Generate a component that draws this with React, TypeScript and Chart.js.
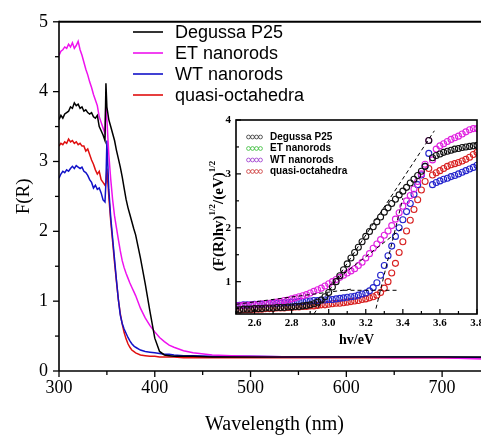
import React, { useEffect, useRef } from 'react';
import { Chart, registerables } from 'chart.js';

Chart.register(...registerables);

// ---------- main chart data ----------
const MAIN_WL = [300, 302, 304, 306, 308, 310, 312, 314, 316, 318, 320, 322, 324, 326, 328, 330, 332, 334, 336, 338, 340, 342, 344, 346, 348, 349, 350, 352, 354, 356, 358, 360, 362, 364, 366, 368, 370, 372, 374, 376, 378, 380, 385, 390, 395, 400, 405, 410, 415, 420, 430, 440, 460, 480, 500, 550, 600, 650, 700, 750];

const P25 = [3.60, 3.66, 3.62, 3.68, 3.70, 3.72, 3.78, 3.76, 3.84, 3.80,
  3.82, 3.76, 3.78, 3.72, 3.74, 3.70, 3.68, 3.70, 3.64, 3.62,
  3.66, 3.50, 3.44, 3.38, 3.30, 4.12, 3.78, 3.60, 3.50, 3.40,
  3.30, 3.16, 3.04, 2.92, 2.78, 2.62, 2.46, 2.34, 2.24, 2.14,
  2.04, 1.95, 1.62, 1.25, 0.85, 0.47, 0.28, 0.23, 0.22, 0.21,
  0.21, 0.21, 0.20, 0.20, 0.20, 0.20, 0.20, 0.20, 0.20, 0.20];

const ET = [4.52, 4.58, 4.60, 4.64, 4.62, 4.68, 4.64, 4.70, 4.62, 4.66,
  4.72, 4.60, 4.52, 4.42, 4.32, 4.24, 4.14, 4.06, 3.96, 3.88,
  3.80, 3.64, 3.56, 3.48, 3.40, 3.88, 3.60, 3.10, 2.75, 2.45,
  2.22, 2.05, 1.88, 1.72, 1.58, 1.48, 1.40, 1.33, 1.26, 1.20,
  1.14, 1.08, 0.90, 0.76, 0.65, 0.56, 0.48, 0.42, 0.37, 0.34,
  0.29, 0.26, 0.23, 0.22, 0.21, 0.20, 0.20, 0.19, 0.19, 0.17];

const WT = [2.76, 2.82, 2.86, 2.84, 2.88, 2.86, 2.90, 2.93, 2.90, 2.94,
  2.92, 2.90, 2.92, 2.86, 2.84, 2.80, 2.74, 2.70, 2.62, 2.66,
  2.60, 2.62, 2.55, 2.45, 2.42, 2.70, 3.30, 2.60, 2.20, 1.90,
  1.60, 1.30, 1.02, 0.80, 0.68, 0.60, 0.54, 0.48, 0.43, 0.39,
  0.36, 0.34, 0.30, 0.28, 0.27, 0.26, 0.25, 0.24, 0.24, 0.23,
  0.22, 0.22, 0.21, 0.21, 0.21, 0.20, 0.20, 0.20, 0.20, 0.19];

const QO = [3.22, 3.26, 3.24, 3.28, 3.26, 3.32, 3.28, 3.30, 3.26, 3.28,
  3.24, 3.26, 3.22, 3.22, 3.15, 3.18, 3.10, 3.02, 2.96, 2.88,
  2.82, 2.86, 2.74, 2.70, 2.66, 2.70, 2.90, 2.50, 2.15, 1.85,
  1.55, 1.28, 1.02, 0.82, 0.67, 0.55, 0.46, 0.39, 0.34, 0.30,
  0.28, 0.26, 0.23, 0.22, 0.21, 0.21, 0.20, 0.20, 0.20, 0.20,
  0.19, 0.19, 0.19, 0.19, 0.19, 0.19, 0.19, 0.19, 0.19, 0.19];

const MAIN_LABELS = ['Degussa P25', 'ET nanorods', 'WT nanorods', 'quasi-octahedra'];
const MAIN_COLORS = ['#000000', '#ee12ee', '#1212c8', '#e01010'];
const MAIN_X_TICKS = [300, 400, 500, 600, 700];
const MAIN_X_MINOR = [350, 450, 550, 650, 750];
const MAIN_Y_TICKS = [0, 1, 2, 3, 4, 5];
const MAIN_Y_MINOR = [0.5, 1.5, 2.5, 3.5, 4.5];

// ---------- inset data ----------
const EV = [2.50, 2.52, 2.54, 2.56, 2.58, 2.60, 2.62, 2.64, 2.66, 2.68,
  2.70, 2.72, 2.74, 2.76, 2.78, 2.80, 2.82, 2.84, 2.86, 2.88,
  2.90, 2.92, 2.94, 2.96, 2.98, 3.00, 3.02, 3.04, 3.06, 3.08,
  3.10, 3.12, 3.14, 3.16, 3.18, 3.20, 3.22, 3.24, 3.26, 3.28,
  3.30, 3.32, 3.34, 3.36, 3.38, 3.40, 3.42, 3.44, 3.46, 3.48,
  3.50, 3.52, 3.54, 3.56, 3.58, 3.60, 3.62, 3.64, 3.66, 3.68,
  3.70, 3.72, 3.74, 3.76, 3.78, 3.80];

const P25_K = [0.48, 0.48, 0.49, 0.49, 0.49, 0.50, 0.50, 0.50, 0.51, 0.51,
  0.51, 0.52, 0.52, 0.52, 0.53, 0.53, 0.54, 0.54, 0.55, 0.56,
  0.57, 0.59, 0.62, 0.66, 0.72, 0.80, 0.90, 1.00, 1.11, 1.22,
  1.33, 1.44, 1.54, 1.64, 1.74, 1.84, 1.93, 2.02, 2.11, 2.20,
  2.29, 2.37, 2.45, 2.53, 2.61, 2.68, 2.75, 2.83, 2.90, 2.97,
  3.05, 3.14, 3.62, 3.30, 3.34, 3.37, 3.40, 3.42, 3.44, 3.46,
  3.47, 3.49, 3.50, 3.51, 3.52, 3.53];

const ET_K = [0.55, 0.55, 0.56, 0.56, 0.57, 0.57, 0.58, 0.59, 0.59, 0.60,
  0.61, 0.62, 0.63, 0.65, 0.66, 0.68, 0.70, 0.72, 0.74, 0.76,
  0.79, 0.82, 0.85, 0.88, 0.92, 0.96, 1.00, 1.04, 1.08, 1.12,
  1.16, 1.20, 1.24, 1.30, 1.36, 1.44, 1.52, 1.62, 1.70, 1.78,
  1.86, 1.94, 2.04, 2.16, 2.28, 2.40, 2.50, 2.60, 2.72, 2.86,
  3.00, 3.18, 3.62, 3.26, 3.46, 3.52, 3.56, 3.60, 3.64, 3.67,
  3.70, 3.74, 3.78, 3.82, 3.84, 3.84];

const WT_K = [0.56, 0.56, 0.57, 0.57, 0.57, 0.58, 0.58, 0.58, 0.59, 0.59,
  0.60, 0.60, 0.60, 0.61, 0.61, 0.62, 0.62, 0.63, 0.63, 0.64,
  0.64, 0.65, 0.65, 0.66, 0.66, 0.67, 0.67, 0.68, 0.69, 0.70,
  0.71, 0.72, 0.73, 0.75, 0.77, 0.79, 0.83, 0.89, 0.98, 1.12,
  1.30, 1.48, 1.66, 1.84, 2.00, 2.15, 2.30, 2.45, 2.62, 2.80,
  2.98, 3.14, 3.38, 2.80, 2.84, 2.87, 2.90, 2.92, 2.95, 2.97,
  3.00, 3.03, 3.06, 3.09, 3.12, 3.16];

const QO_K = [0.47, 0.47, 0.48, 0.48, 0.48, 0.49, 0.49, 0.49, 0.50, 0.50,
  0.50, 0.51, 0.51, 0.51, 0.52, 0.52, 0.53, 0.53, 0.54, 0.54,
  0.55, 0.55, 0.56, 0.57, 0.57, 0.58, 0.59, 0.60, 0.60, 0.61,
  0.62, 0.63, 0.64, 0.65, 0.67, 0.68, 0.70, 0.72, 0.75, 0.80,
  0.88, 1.00, 1.16, 1.34, 1.54, 1.74, 1.94, 2.14, 2.34, 2.52,
  2.70, 2.86, 3.10, 2.98, 3.02, 3.06, 3.10, 3.14, 3.17, 3.19,
  3.21, 3.24, 3.27, 3.31, 3.36, 3.40];

const INSET_COLORS = ['#111111', '#e020e0', '#2222cc', '#d82020'];
const INSET_LEGEND_COLORS = ['#333333', '#33bb33', '#9933cc', '#cc3333'];

// dashed fit lines (x pairs, y pairs)
const FIT_P25_X = [2.92, 3.57];
const FIT_P25_Y = [0.40, 3.80];
const FIT_BASE_X = [2.50, 3.12];
const FIT_BASE_Y = [0.58, 0.86];
const FIT_ET_X = [3.02, 3.40];
const FIT_ET_Y = [0.98, 2.00];
const FIT_FLAT_X = [3.08, 3.38];
const FIT_FLAT_Y = [0.84, 0.84];
const FIT_WT_X = [3.255, 3.40];
const FIT_WT_Y = [0.50, 2.55];

const INSET_X_TICKS = [2.6, 2.8, 3.0, 3.2, 3.4, 3.6, 3.8];
const INSET_X_MINOR = [2.5, 2.7, 2.9, 3.1, 3.3, 3.5, 3.7];
const INSET_Y_TICKS = [1, 2, 3, 4];
const INSET_Y_MINOR = [0.5, 1.5, 2.5, 3.5];

const SERIF = "'Liberation Serif', 'Times New Roman', serif";
const SANS = "'Liberation Sans', Arial, sans-serif";

function line(ctx: CanvasRenderingContext2D, x1: number, y1: number, x2: number, y2: number) {
  ctx.beginPath();
  ctx.moveTo(x1, y1);
  ctx.lineTo(x2, y2);
  ctx.stroke();
}

const mainFrame = {
  id: 'mainFrame',
  afterDraw(chart: any) {
    const { ctx, chartArea: a } = chart;
    const xs = chart.scales.x;
    const ys = chart.scales.y;
    ctx.save();
    ctx.strokeStyle = '#000';
    ctx.lineWidth = 2;
    line(ctx, a.left, a.top, a.right, a.top);
    ctx.lineWidth = 1.6;
    line(ctx, a.left, a.top - 1, a.left, a.bottom);
    line(ctx, a.left, a.bottom, a.right, a.bottom);
    ctx.lineWidth = 1.3;
    MAIN_X_TICKS.forEach((v) => { const p = xs.getPixelForValue(v); line(ctx, p, a.bottom, p, a.bottom + 6); });
    MAIN_X_MINOR.forEach((v) => { const p = xs.getPixelForValue(v); line(ctx, p, a.bottom, p, a.bottom + 4); });
    MAIN_Y_TICKS.forEach((v) => { const p = ys.getPixelForValue(v); line(ctx, a.left, p, a.left - 6, p); });
    MAIN_Y_MINOR.forEach((v) => { const p = ys.getPixelForValue(v); line(ctx, a.left, p, a.left - 4, p); });
    // legend
    ctx.font = `18px ${SANS}`;
    ctx.textBaseline = 'middle';
    ctx.textAlign = 'left';
    chart.data.datasets.forEach((ds: any, i: number) => {
      const y = 32 + 21 * i;
      ctx.strokeStyle = ds.borderColor;
      ctx.lineWidth = 1.6;
      line(ctx, 133, y, 163, y);
      ctx.fillStyle = '#000';
      ctx.fillText(ds.label, 175, y + 1);
    });
    ctx.restore();
  },
};

const insetFrame = {
  id: 'insetFrame',
  afterDraw(chart: any) {
    const { ctx, chartArea: a } = chart;
    const xs = chart.scales.x;
    const ys = chart.scales.y;
    ctx.save();
    ctx.strokeStyle = '#000';
    ctx.lineWidth = 1.6;
    ctx.strokeRect(a.left, a.top, a.right - a.left, a.bottom - a.top);
    ctx.lineWidth = 1.2;
    INSET_X_TICKS.forEach((v) => { const p = xs.getPixelForValue(v); line(ctx, p, a.bottom, p, a.bottom - 5); });
    INSET_X_MINOR.forEach((v) => { const p = xs.getPixelForValue(v); line(ctx, p, a.bottom, p, a.bottom - 3); });
    INSET_Y_TICKS.forEach((v) => { const p = ys.getPixelForValue(v); line(ctx, a.left, p, a.left + 5, p); });
    INSET_Y_MINOR.forEach((v) => { const p = ys.getPixelForValue(v); line(ctx, a.left, p, a.left + 3, p); });
    // legend
    ctx.font = `bold 10px ${SANS}`;
    ctx.textBaseline = 'middle';
    ctx.textAlign = 'left';
    MAIN_LABELS.forEach((lab, i) => {
      const y = 32 + 11.5 * i;
      ctx.strokeStyle = INSET_LEGEND_COLORS[i];
      ctx.lineWidth = 0.8;
      for (let k = 0; k < 4; k++) {
        ctx.beginPath();
        ctx.arc(53.5 + 4 * k, y, 1.9, 0, Math.PI * 2);
        ctx.stroke();
      }
      ctx.fillStyle = '#000';
      ctx.fillText(lab, 75, y);
    });
    // y title with superscripts
    ctx.translate(24, 111);
    ctx.rotate(-Math.PI / 2);
    const parts: [string, boolean][] = [['(F(R)hv)', false], ['1/2', true], ['/(eV)', false], ['1/2', true]];
    const big = `bold 15px ${SERIF}`;
    const small = `bold 9px ${SERIF}`;
    let total = 0;
    parts.forEach(([t, sup]) => { ctx.font = sup ? small : big; total += ctx.measureText(t).width; });
    let x = -total / 2;
    ctx.fillStyle = '#000';
    ctx.textAlign = 'left';
    parts.forEach(([t, sup]) => {
      ctx.font = sup ? small : big;
      ctx.fillText(t, x, sup ? -6 : 0);
      x += ctx.measureText(t).width;
    });
    ctx.restore();
  },
};

export default function App() {
  const mainRef = useRef<HTMLCanvasElement>(null);
  const insetRef = useRef<HTMLCanvasElement>(null);

  useEffect(() => {
    const mainSeries = [P25, ET, WT, QO];
    const main = new Chart(mainRef.current as HTMLCanvasElement, {
      type: 'line',
      data: {
        datasets: mainSeries.map((vals, i) => ({
          label: MAIN_LABELS[i],
          data: MAIN_WL.map((w, j) => ({ x: w, y: vals[j] })),
          borderColor: MAIN_COLORS[i],
          borderWidth: 1.5,
          pointRadius: 0,
          tension: 0,
          fill: false,
        })),
      },
      options: {
        responsive: false,
        animation: false,
        devicePixelRatio: 1,
        layout: { padding: { top: 21, right: 20, left: 0, bottom: 0 } },
        plugins: { legend: { display: false }, tooltip: { enabled: false } },
        scales: {
          x: {
            type: 'linear',
            min: 300,
            max: 750,
            afterBuildTicks: (s: any) => { s.ticks = MAIN_X_TICKS.map((v) => ({ value: v })); },
            afterFit: (s: any) => { s.height = 65; },
            grid: { display: false, drawTicks: false },
            border: { display: false },
            ticks: { font: { family: SERIF, size: 18 }, color: '#000', padding: 6, maxRotation: 0, autoSkip: false, callback: (v: any) => String(v) },
            title: { display: true, text: 'Wavelength (nm)', color: '#000', font: { family: SERIF, size: 20, lineHeight: 1 }, padding: { top: 0, bottom: 1 } },
          },
          y: {
            type: 'linear',
            min: 0,
            max: 5,
            afterBuildTicks: (s: any) => { s.ticks = MAIN_Y_TICKS.map((v) => ({ value: v })); },
            afterFit: (s: any) => { s.width = 59; },
            grid: { display: false, drawTicks: false },
            border: { display: false },
            ticks: { font: { family: SERIF, size: 18 }, color: '#000', padding: 11, callback: (v: any) => String(v) },
            title: { display: true, text: 'F(R)', color: '#000', font: { family: SERIF, size: 19, lineHeight: 1 }, padding: { top: 15, bottom: 0 } },
          },
        },
      },
      plugins: [mainFrame],
    } as any);

    const insetSeries = [P25_K, ET_K, WT_K, QO_K];
    const fits = [
      [FIT_P25_X, FIT_P25_Y],
      [FIT_BASE_X, FIT_BASE_Y],
      [FIT_ET_X, FIT_ET_Y],
      [FIT_FLAT_X, FIT_FLAT_Y],
      [FIT_WT_X, FIT_WT_Y],
    ];
    const inset = new Chart(insetRef.current as HTMLCanvasElement, {
      type: 'line',
      data: {
        datasets: [
          ...fits.map(([fx, fy]) => ({
            data: fx.map((x, j) => ({ x, y: fy[j] })),
            borderColor: '#000',
            borderWidth: 1,
            borderDash: [4, 3],
            pointRadius: 0,
            showLine: true,
            fill: false,
          })),
          ...insetSeries.map((vals, i) => ({
            label: MAIN_LABELS[i],
            data: EV.map((e, j) => ({ x: e, y: vals[j] })),
            showLine: false,
            pointRadius: 3,
            pointBorderWidth: 1.1,
            pointBorderColor: INSET_COLORS[i],
            pointBackgroundColor: 'rgba(255,255,255,0)',
            borderColor: INSET_COLORS[i],
          })),
        ],
      },
      options: {
        responsive: false,
        animation: false,
        devicePixelRatio: 1,
        layout: { padding: { top: 15, right: 18, left: 0, bottom: 0 } },
        plugins: { legend: { display: false }, tooltip: { enabled: false } },
        scales: {
          x: {
            type: 'linear',
            min: 2.5,
            max: 3.8,
            afterBuildTicks: (s: any) => { s.ticks = INSET_X_TICKS.map((v) => ({ value: v })); },
            afterFit: (s: any) => { s.height = 36; },
            grid: { display: false, drawTicks: false },
            border: { display: false },
            ticks: { font: { family: SERIF, size: 11, weight: 'bold' }, color: '#000', padding: 3, maxRotation: 0, autoSkip: false, callback: (v: any) => Number(v).toFixed(1) },
            title: { display: true, text: 'hv/eV', color: '#000', font: { family: SERIF, size: 14, weight: 'bold' }, padding: { top: 0, bottom: 1 } },
          },
          y: {
            type: 'linear',
            min: 0.4,
            max: 4,
            afterBuildTicks: (s: any) => { s.ticks = INSET_Y_TICKS.map((v) => ({ value: v })); },
            afterFit: (s: any) => { s.width = 41; },
            grid: { display: false, drawTicks: false },
            border: { display: false },
            ticks: { font: { family: SERIF, size: 11, weight: 'bold' }, color: '#000', padding: 5, callback: (v: any) => String(v) },
          },
        },
      },
      plugins: [insetFrame],
    } as any);

    return () => {
      main.destroy();
      inset.destroy();
    };
  }, []);

  return (
    <div style={{ position: 'fixed', left: 0, top: 0, width: 481, height: 436, overflow: 'hidden', background: '#fff' }}>
      <canvas ref={mainRef} width={510} height={436} style={{ position: 'absolute', left: 0, top: 0, width: 510, height: 436 }} />
      <canvas ref={insetRef} width={300} height={245} style={{ position: 'absolute', left: 195, top: 105, width: 300, height: 245 }} />
    </div>
  );
}
